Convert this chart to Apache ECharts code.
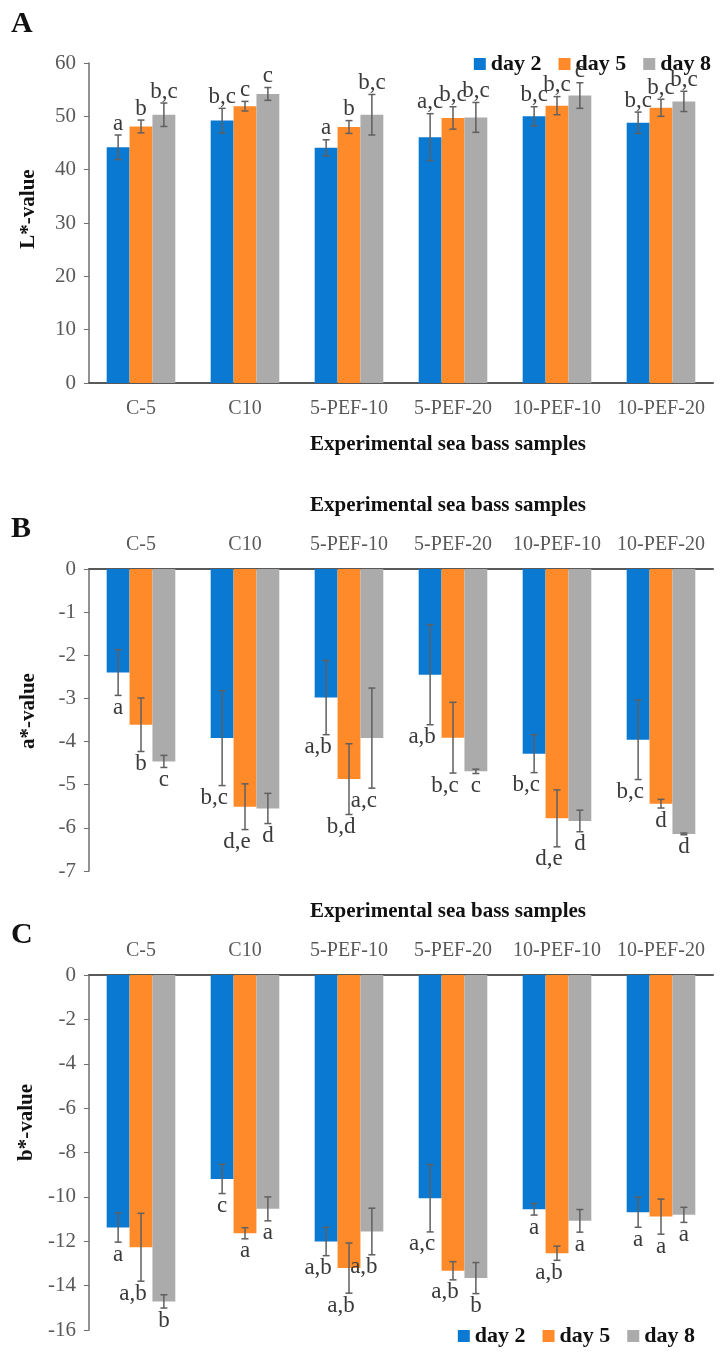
<!DOCTYPE html>
<html>
<head>
<meta charset="utf-8">
<title>Sea bass colour values</title>
<script src="https://cdn.jsdelivr.net/npm/echarts@6/dist/echarts.min.js"></script>
<style>
  html, body { margin: 0; padding: 0; background: #fff; }
  #chart { width: 727px; height: 1356px; }
</style>
</head>
<body>
<div id="chart"></div>
<script>
const samples = ['C-5', 'C10', '5-PEF-10', '5-PEF-20', '10-PEF-10', '10-PEF-20'];
const days = ['day 2', 'day 5', 'day 8'];

// panel A, L*-value
const lDay2 = [44.2, 49.2, 44.1, 46.1, 50.0, 48.8];
const lDay5 = [48.1, 51.9, 48.0, 49.7, 52.0, 51.6];
const lDay8 = [50.3, 54.2, 50.3, 49.8, 53.9, 52.8];
const lErr2 = [2.3, 2.3, 1.5, 4.4, 1.8, 2.0];
const lErr5 = [1.2, 0.9, 1.2, 2.1, 1.7, 1.6];
const lErr8 = [2.2, 1.2, 3.8, 2.8, 2.4, 1.9];
const lSig2 = ['a', 'b,c', 'a', 'a,c', 'b,c', 'b,c'];
const lSig5 = ['b', 'c', 'b', 'b,c', 'b,c', 'b,c'];
const lSig8 = ['b,c', 'c', 'b,c', 'b,c', 'c', 'b,c'];

// panel B, a*-value
const aDay2 = [-2.40, -3.92, -2.98, -2.45, -4.28, -3.96];
const aDay5 = [-3.61, -5.51, -4.87, -3.91, -5.78, -5.44];
const aDay8 = [-4.46, -5.55, -3.92, -4.69, -5.84, -6.14];
const aErr2 = [0.53, 1.10, 0.86, 1.16, 0.44, 0.92];
const aErr5 = [0.62, 0.53, 0.82, 0.82, 0.66, 0.10];
const aErr8 = [0.14, 0.35, 1.16, 0.05, 0.25, 0.02];
const aSig2 = ['a', 'b,c', 'a,b', 'a,b', 'b,c', 'b,c'];
const aSig5 = ['b', 'd,e', 'b,d', 'b,c', 'd,e', 'd'];
const aSig8 = ['c', 'd', 'a,c', 'c', 'd', 'd'];

// panel C, b*-value
const bDay2 = [-11.38, -9.19, -12.01, -10.06, -10.56, -10.69];
const bDay5 = [-12.27, -11.64, -13.21, -13.33, -12.54, -10.89];
const bDay8 = [-14.71, -10.54, -11.56, -13.66, -11.08, -10.81];
const bErr2 = [0.66, 0.66, 0.64, 1.52, 0.26, 0.68];
const bErr5 = [1.53, 0.25, 1.13, 0.41, 0.32, 0.79];
const bErr8 = [0.30, 0.54, 1.05, 0.70, 0.51, 0.34];
const bSig2 = ['a', 'c', 'a,b', 'a,c', 'a', 'a'];
const bSig5 = ['a,b', 'a', 'a,b', 'a,b', 'a,b', 'a'];
const bSig8 = ['b', 'a', 'a,b', 'b', 'a', 'a'];

const serif = '"Liberation Serif", "Times New Roman", serif';
const colors = ['#0A79D1', '#FF8A2A', '#ABABAB'];
const catGap = 0.34;

const chart = echarts.init(document.getElementById('chart'));

function catAxis(gridIndex, position) {
    return {
        type: 'category',
        gridIndex,
        data: samples,
        position,
        name: 'Experimental sea bass samples',
        nameLocation: 'middle',
        nameGap: position === 'bottom' ? 51 : 53,
        nameTextStyle: {
            fontFamily: serif, fontWeight: 'bold', fontSize: 21, color: '#111',
            padding: [0, 0, 0, 94]
        },
        axisLine: { onZero: false, lineStyle: { color: '#595959', width: 2 } },
        axisTick: { show: false },
        axisLabel: { fontFamily: serif, fontSize: 20, color: '#595959', margin: position === 'bottom' ? 16 : 14, interval: 0 }
    };
}

// shift = how far the rotated axis name sits above the middle of the axis
function valAxis(gridIndex, min, max, interval, name, shift) {
    return {
        type: 'value',
        gridIndex, min, max, interval, name,
        nameLocation: 'middle',
        nameGap: 50,
        nameTextStyle: {
            fontFamily: serif, fontWeight: 'bold', fontSize: 21, color: '#111',
            padding: [0, 0, 0, shift * 2]
        },
        axisLine: { show: true, lineStyle: { color: '#6e6e6e', width: 1.5 } },
        axisTick: { show: true, length: 5, lineStyle: { color: '#6e6e6e' } },
        axisLabel: { fontFamily: serif, fontSize: 21, color: '#595959', margin: 13 },
        splitLine: { show: false }
    };
}

function bars(gridIndex, dayIdx, values) {
    return {
        type: 'bar',
        name: days[dayIdx],
        xAxisIndex: gridIndex,
        yAxisIndex: gridIndex,
        data: values,
        barGap: '0%',
        barCategoryGap: (catGap * 100) + '%',
        itemStyle: { color: colors[dayIdx] },
        emphasis: { disabled: true }
    };
}

// error bars plus significance letters, placed on the bar of that day
function errorBars(gridIndex, dayIdx, means, errs, sigs, above) {
    return {
        type: 'custom',
        xAxisIndex: gridIndex,
        yAxisIndex: gridIndex,
        z: 10,
        silent: true,
        data: means.map((m, i) => [i, m, errs[i]]),
        renderItem(params, api) {
            const i = api.value(0), m = api.value(1), e = api.value(2);
            const barW = api.size([1, 0])[0] * (1 - catGap) / 3;
            const hi = api.coord([i, m + e]);
            const lo = api.coord([i, m - e]);
            const x = hi[0] + (dayIdx - 1) * barW;
            const style = { stroke: '#5f5f5f', lineWidth: 1.5 };
            const sig = sigs[i];
            // letter pairs below the bars sit a little to the left in the original
            const dx = !above && sig.length > 1 ? -8 : 0;
            return {
                type: 'group',
                children: [
                    { type: 'line', shape: { x1: x, y1: hi[1], x2: x, y2: lo[1] }, style },
                    { type: 'line', shape: { x1: x - 3.5, y1: hi[1], x2: x + 3.5, y2: hi[1] }, style },
                    { type: 'line', shape: { x1: x - 3.5, y1: lo[1], x2: x + 3.5, y2: lo[1] }, style },
                    {
                        type: 'text',
                        x: x + dx,
                        y: above ? hi[1] : lo[1] + 1,
                        style: {
                            text: sig, fill: '#3a3a3a',
                            fontFamily: serif, fontSize: 23,
                            align: 'center', verticalAlign: above ? 'bottom' : 'top'
                        }
                    }
                ]
            };
        }
    };
}

const legendBase = {
    data: days,
    icon: 'rect',
    itemWidth: 12,
    itemHeight: 12,
    itemGap: 17,
    textStyle: { fontFamily: serif, fontWeight: 'bold', fontSize: 22, color: '#111' }
};

const panelTitle = (text, top) => ({
    text, left: 11, top, padding: 0,
    textStyle: { fontFamily: serif, fontWeight: 'bold', fontSize: 30, color: '#111' }
});

chart.setOption({
    animation: false,
    title: [panelTitle('A', 9), panelTitle('B', 514), panelTitle('C', 920)],
    legend: [
        Object.assign({ top: 48, right: 11 }, legendBase),
        Object.assign({ top: 1320, right: 27 }, legendBase)
    ],
    grid: [
        { left: 89, right: 14, top: 63, height: 320 },
        { left: 89, right: 14, top: 569, height: 302 },
        { left: 89, right: 14, top: 975, height: 355 }
    ],
    xAxis: [catAxis(0, 'bottom'), catAxis(1, 'top'), catAxis(2, 'top')],
    yAxis: [
        valAxis(0, 0, 60, 10, 'L*-value', 14),
        valAxis(1, -7, 0, 1, 'a*-value', 9),
        valAxis(2, -16, 0, 2, 'b*-value', 30)
    ],
    series: [
        bars(0, 0, lDay2), bars(0, 1, lDay5), bars(0, 2, lDay8),
        bars(1, 0, aDay2), bars(1, 1, aDay5), bars(1, 2, aDay8),
        bars(2, 0, bDay2), bars(2, 1, bDay5), bars(2, 2, bDay8),
        errorBars(0, 0, lDay2, lErr2, lSig2, true),
        errorBars(0, 1, lDay5, lErr5, lSig5, true),
        errorBars(0, 2, lDay8, lErr8, lSig8, true),
        errorBars(1, 0, aDay2, aErr2, aSig2, false),
        errorBars(1, 1, aDay5, aErr5, aSig5, false),
        errorBars(1, 2, aDay8, aErr8, aSig8, false),
        errorBars(2, 0, bDay2, bErr2, bSig2, false),
        errorBars(2, 1, bDay5, bErr5, bSig5, false),
        errorBars(2, 2, bDay8, bErr8, bSig8, false)
    ]
});

window.addEventListener('resize', () => chart.resize());
</script>
</body>
</html>
